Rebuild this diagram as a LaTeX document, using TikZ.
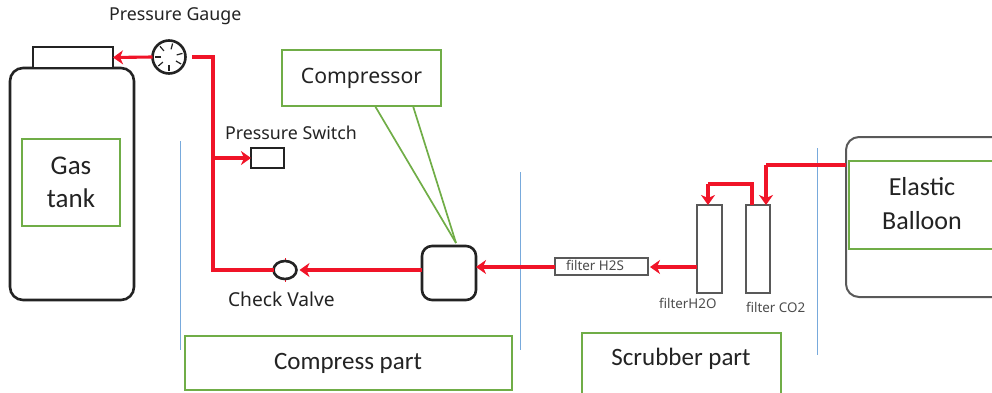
\documentclass[tikz,border=0pt]{standalone}
\usepackage{fontspec}
\setmainfont{Noto Sans}
\newfontfamily\calib{Carlito}
\usetikzlibrary{arrows.meta,shapes.geometric}
\definecolor{grn}{RGB}{112,173,71}
\definecolor{rd}{RGB}{240,20,40}
\definecolor{blu}{RGB}{120,170,220}
\definecolor{drk}{RGB}{35,35,35}
\tikzset{
 x=1pt,y=-1pt,
 every node/.style={outer sep=0pt},
 part/.style={draw=drk,line width=2.6pt,fill=white,inner sep=0pt},
 thin part/.style={draw=black!65,line width=1.7pt,fill=white,inner sep=0pt},
 label box/.style={draw=grn,line width=2pt,fill=white,align=center,inner sep=0pt,text=drk},
 captext/.style={inner sep=0pt,text=drk,font=\fontsize{17.8}{20}\selectfont},
 small captext/.style={inner sep=0pt,text=black!70,font=\fontsize{13.4}{15}\selectfont},
 pipe/.style={draw=rd,line width=3.1pt},
 flow/.style={pipe,-{Stealth[length=10pt,width=14pt,inset=3pt]}},
 divider/.style={draw=blu,line width=0.8pt},
 pointer/.style={draw=grn,line width=1.7pt}
}
\begin{document}
\begin{tikzpicture}
\useasboundingbox (0,0) rectangle (992,393);
% balloon
\draw[draw=black!65,line width=2pt,rounded corners=13pt] (992,297) -- (846,297) -- (846,137) -- (992,137);
% dividers
\draw[divider] (180,141) -- (180,350);
\draw[divider] (520,172) -- (520,350);
\draw[divider] (817,148) -- (817,355);
% tank
\node[part,rounded corners=13pt,minimum width=124pt,minimum height=232pt,anchor=north west] (tank) at (10,68) {};
\node[part,minimum width=80pt,minimum height=21pt,anchor=north west] (tanktop) at (33,47) {};
\node[label box,minimum width=98pt,minimum height=87pt,anchor=north west,font=\calib\fontsize{27}{33}\selectfont] (gas) at (22,139) {Gas\\tank};
% gauge
\node[part,circle,minimum size=33pt] (gauge) at (169,57) {};
\foreach \a in {90,30,-15,-75,-130,180,140} \draw[drk,line width=1.2pt] (169,57) ++(\a:8) -- ++(\a:6);
\node[captext,anchor=west] (gaugetxt) at (109,16) {Pressure Gauge};
% switch
\node[part,minimum width=33pt,minimum height=20pt,anchor=north west] (switch) at (251,148) {};
\node[captext,anchor=west] (switchtxt) at (225,133) {Pressure Switch};
% valve
\draw[rd,line width=0.8pt] (285,258) -- (285,282);
\node[part,ellipse,minimum width=23pt,minimum height=18pt] (valve) at (285,270) {};
\node[captext,anchor=west,font=\fontsize{19.2}{22}\selectfont] (valvetxt) at (228,299) {Check Valve};
% compressor
\node[part,rounded corners=10pt,minimum width=54pt,minimum height=54pt,anchor=north west] (comp) at (422,246) {};
\coordinate (tip) at (456,243);
\draw[pointer] (tip) -- (375,106);
\draw[pointer] (tip) -- (413,106);
\node[label box,minimum width=159pt,minimum height=56pt,anchor=north west,font=\fontsize{21.2}{26}\selectfont] (comptxt) at (282,50) {Compressor};
% filters
\node[thin part,minimum width=25pt,minimum height=88pt,anchor=north west] (h2o) at (697,205) {};
\node[thin part,minimum width=24pt,minimum height=88pt,anchor=north west] (co2) at (746,205) {};
\node[thin part,minimum width=93pt,minimum height=17pt,anchor=north west] (h2s) at (555,258) {};
\node[small captext,anchor=west] (h2stxt) at (566,265.5) {filter H2S};
\node[small captext,anchor=west] (h2otxt) at (659,303) {filterH2O};
\node[small captext,anchor=west] (co2txt) at (746,307) {filter CO2};
% pipes
\coordinate (j1) at (213,57);
\coordinate (j2) at (213,270);
\coordinate (j3) at (213,158);
\coordinate (j4) at (766,165);
\coordinate (j5) at (708,184);
\coordinate (j6) at (752,184);
\coordinate (a1) at (416,270);
\coordinate (a2) at (555,267);
\coordinate (a3) at (697,267);
\coordinate (a4) at (846,165);
\draw[flow] (gauge.west) -- (tanktop.east);
\draw[pipe] (192,57) -- (j1) -- (j2) -- (valve.west);
\draw[flow] (j3) -- (switch.west);
\draw[flow] (comp.west |- a1) -- ([xshift=3pt]valve.east);
\draw[flow] (a2) -- (comp.east |- a2);
\draw[flow] (a3) -- ([xshift=2pt]h2s.east |- a3);
\draw[pipe] (a4) -- (j4);
\draw[flow] (j4) -- (j4 |- co2.north);
\draw[pipe] (j6 |- co2.north) -- (j6) -- (j5);
\draw[flow] (j5) -- (j5 |- h2o.north);
% part labels
\node[label box,minimum width=327pt,minimum height=54pt,anchor=north west,font=\calib\fontsize{25}{30}\selectfont] (cpart) at (184.5,336) {Compress part};
\draw[draw=grn,line width=2pt] (582,393) -- (582,333) -- (781,333) -- (781,393);
\node[anchor=center,inner sep=0pt,text=drk,font=\calib\fontsize{25}{30}\selectfont] (spart) at (681,359) {Scrubber part};
\draw[draw=grn,line width=2pt,fill=white] (995,161) -- (849,161) -- (849,249) -- (995,249);
\node[align=center,inner sep=0pt,text=drk,font=\calib\fontsize{26}{34}\selectfont] (baltxt) at (922,204) {Elastic\\Balloon};
\end{tikzpicture}
\end{document}
